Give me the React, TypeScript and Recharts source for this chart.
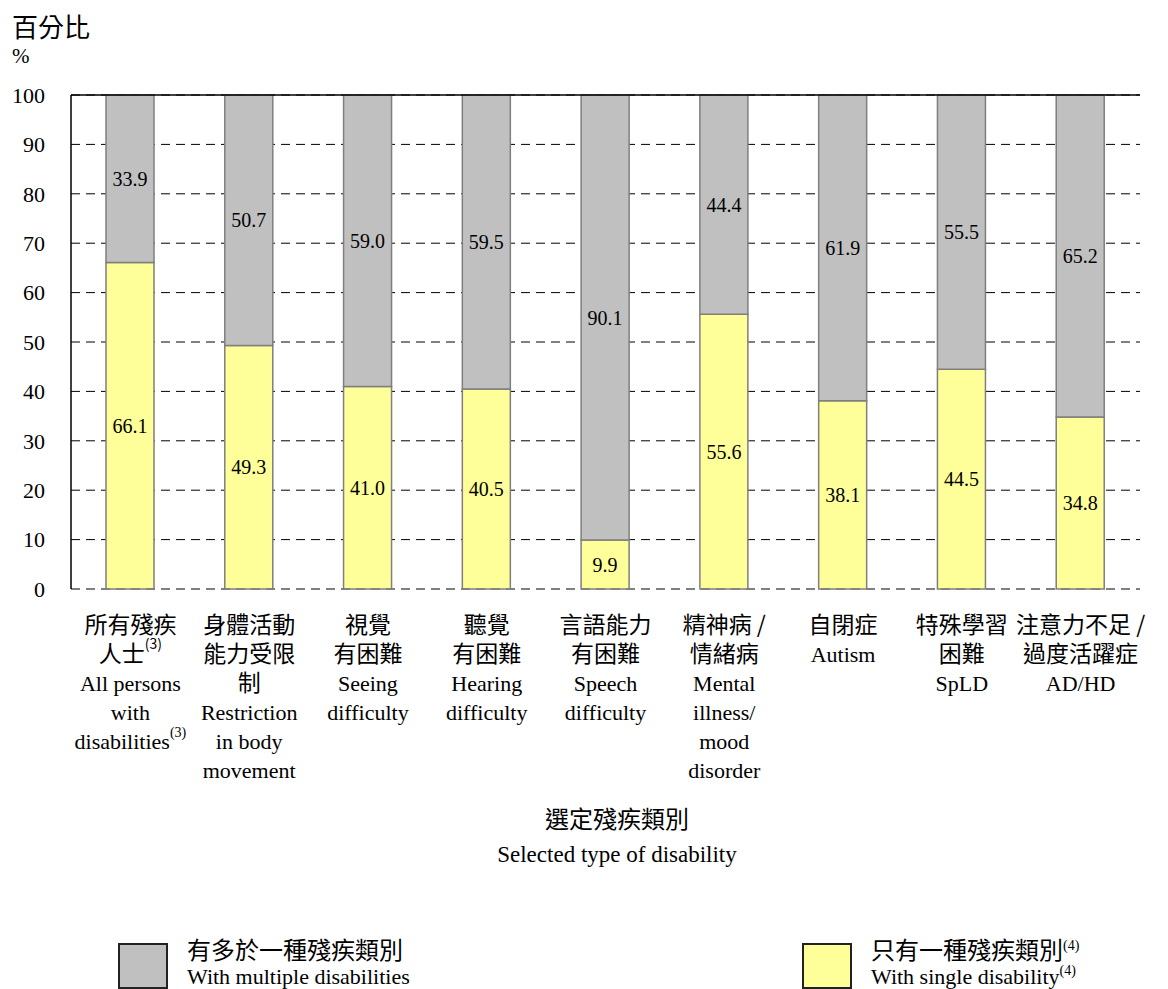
import React from 'react';
import {
    BarChart,
    Bar,
    XAxis,
    YAxis,
    CartesianGrid,
    ReferenceLine,
    LabelList
} from 'recharts';

const categories = ['所有殘疾人士', '身體活動能力受限制', '視覺有困難', '聽覺有困難', '言語能力有困難', '精神病／情緒病', '自閉症', '特殊學習困難', '注意力不足／過度活躍症'];

const singleValues = [66.1, 49.3, 41.0, 40.5, 9.9, 55.6, 38.1, 44.5, 34.8];
const multipleValues = [33.9, 50.7, 59.0, 59.5, 90.1, 44.4, 61.9, 55.5, 65.2];

// tick label lines; "^" splits off a superscript
const tickLinesCn = [
    ['所有殘疾', '人士^(3)'],
    ['身體活動', '能力受限', '制'],
    ['視覺', '有困難'],
    ['聽覺', '有困難'],
    ['言語能力', '有困難'],
    ['精神病 /', '情緒病'],
    ['自閉症'],
    ['特殊學習', '困難'],
    ['注意力不足 /', '過度活躍症']
];
const tickLinesEn = [
    ['All persons', 'with', 'disabilities^(3)'],
    ['Restriction', 'in body', 'movement'],
    ['Seeing', 'difficulty'],
    ['Hearing', 'difficulty'],
    ['Speech', 'difficulty'],
    ['Mental', 'illness/', 'mood', 'disorder'],
    ['Autism'],
    ['SpLD'],
    ['AD/HD']
];

const yTicks = [0, 10, 20, 30, 40, 50, 60, 70, 80, 90, 100];

const data = categories.map((name, i) => ({
    name,
    single: singleValues[i],
    multiple: multipleValues[i]
}));

const CJK = '"Noto Sans CJK TC", "Noto Sans CJK SC", sans-serif';
const SERIF = '"Liberation Serif", "Times New Roman", serif';

const renderLine = (text: string) => {
    const [main, sup] = text.split('^');
    return (
        <>
            {main}
            {sup && <tspan fontSize={14} dy={-9}>{sup}</tspan>}
        </>
    );
};

const CategoryTick = (props: any) => {
    const { x, y, index } = props;
    const rows = [
        ...(tickLinesCn[index] || []).map((t) => ({ t, cn: true })),
        ...(tickLinesEn[index] || []).map((t) => ({ t, cn: false }))
    ];
    return (
        <g>
            {rows.map((r, i) => (
                <text
                    key={i}
                    x={x}
                    y={y + 36 + i * 29 - (r.cn ? 2 : 0)}
                    textAnchor="middle"
                    dominantBaseline="central"
                    style={{ fontFamily: r.cn ? CJK : SERIF }}
                    fontSize={r.cn ? 23 : 22}
                    fill="#000"
                >
                    {renderLine(r.t)}
                </text>
            ))}
        </g>
    );
};

function renderHtml(text: string) {
    const [main, sup] = text.split('^');
    return (
        <>
            {main}
            {sup && (
                <span style={{ fontSize: 14, fontFamily: SERIF, position: 'relative', top: -9, verticalAlign: 'baseline' }}>
                    {sup}
                </span>
            )}
        </>
    );
}

const LegendBox = ({ color, left, cn, en }: { color: string; left: number; cn: string; en: string }) => (
    <>
        <div style={{
            position: 'absolute', left, top: 943, width: 50, height: 46,
            background: color, border: '2px solid #222', boxSizing: 'border-box'
        }} />
        <div style={{ position: 'absolute', left: left + 69, top: 933, fontFamily: CJK, fontSize: 24, lineHeight: '32px', whiteSpace: 'nowrap' }}>
            {renderHtml(cn)}
        </div>
        <div style={{ position: 'absolute', left: left + 69, top: 963, fontFamily: SERIF, fontSize: 22, lineHeight: '28px', whiteSpace: 'nowrap' }}>
            {renderHtml(en)}
        </div>
    </>
);

export default function App() {
    return (
        <div style={{ position: 'absolute', left: 0, top: 0, width: 1168, height: 989, overflow: 'hidden', background: '#fff' }}>
            <div style={{ position: 'absolute', left: 12, top: 9, fontFamily: CJK, fontSize: 26, lineHeight: '34px' }}>百分比</div>
            <div style={{ position: 'absolute', left: 12, top: 43, fontFamily: SERIF, fontSize: 21, lineHeight: '26px' }}>%</div>

            <BarChart
                width={1168}
                height={989}
                data={data}
                margin={{ top: 95, right: 28, bottom: 0, left: 0 }}
                barSize={48}
            >
                <CartesianGrid yAxisId="left" vertical={false} stroke="#000" strokeDasharray="9 6" />
                <XAxis
                    dataKey="name"
                    height={400}
                    axisLine={false}
                    tickLine={false}
                    tickSize={0}
                    tickMargin={0}
                    interval={0}
                    tick={<CategoryTick />}
                />
                <YAxis
                    yAxisId="left"
                    width={71}
                    domain={[0, 100]}
                    ticks={yTicks}
                    tickLine={false}
                    tickSize={0}
                    tickMargin={26}
                    axisLine={{ stroke: '#000', strokeWidth: 1.5 }}
                    tick={{ fill: '#000', fontSize: 22, style: { fontFamily: SERIF } }}
                />
                <YAxis
                    yAxisId="right"
                    orientation="right"
                    width={0}
                    domain={[0, 100]}
                    tick={false}
                    tickLine={false}
                    axisLine={{ stroke: '#000', strokeWidth: 1.5 }}
                />
                <ReferenceLine yAxisId="left" y={100} stroke="#000" strokeWidth={1.5} />
                <Bar yAxisId="left" dataKey="single" stackId="a" fill="#ffff99" stroke="#7f7f7f" strokeWidth={1.5} isAnimationActive={false}>
                    <LabelList
                        dataKey="single"
                        position="center"
                        fill="#000"
                        fontSize={20}
                        style={{ fontFamily: SERIF }}
                        formatter={(v: any) => Number(v).toFixed(1)}
                    />
                </Bar>
                <Bar yAxisId="left" dataKey="multiple" stackId="a" fill="#c0c0c0" stroke="#7f7f7f" strokeWidth={1.5} isAnimationActive={false}>
                    <LabelList
                        dataKey="multiple"
                        position="center"
                        fill="#000"
                        fontSize={20}
                        style={{ fontFamily: SERIF }}
                        formatter={(v: any) => Number(v).toFixed(1)}
                    />
                </Bar>
                <ReferenceLine yAxisId="left" y={0} stroke="#808080" strokeWidth={1.5} strokeDasharray="9 6" />
            </BarChart>

            <div style={{ position: 'absolute', left: 417, width: 400, top: 801, textAlign: 'center', fontFamily: CJK, fontSize: 24, lineHeight: '34px' }}>選定殘疾類別</div>
            <div style={{ position: 'absolute', left: 417, width: 400, top: 840, textAlign: 'center', fontFamily: SERIF, fontSize: 23, lineHeight: '30px' }}>Selected type of disability</div>

            <LegendBox color="#c0c0c0" left={118} cn="有多於一種殘疾類別" en="With multiple disabilities" />
            <LegendBox color="#ffff99" left={802} cn="只有一種殘疾類別^(4)" en="With single disability^(4)" />
        </div>
    );
}
